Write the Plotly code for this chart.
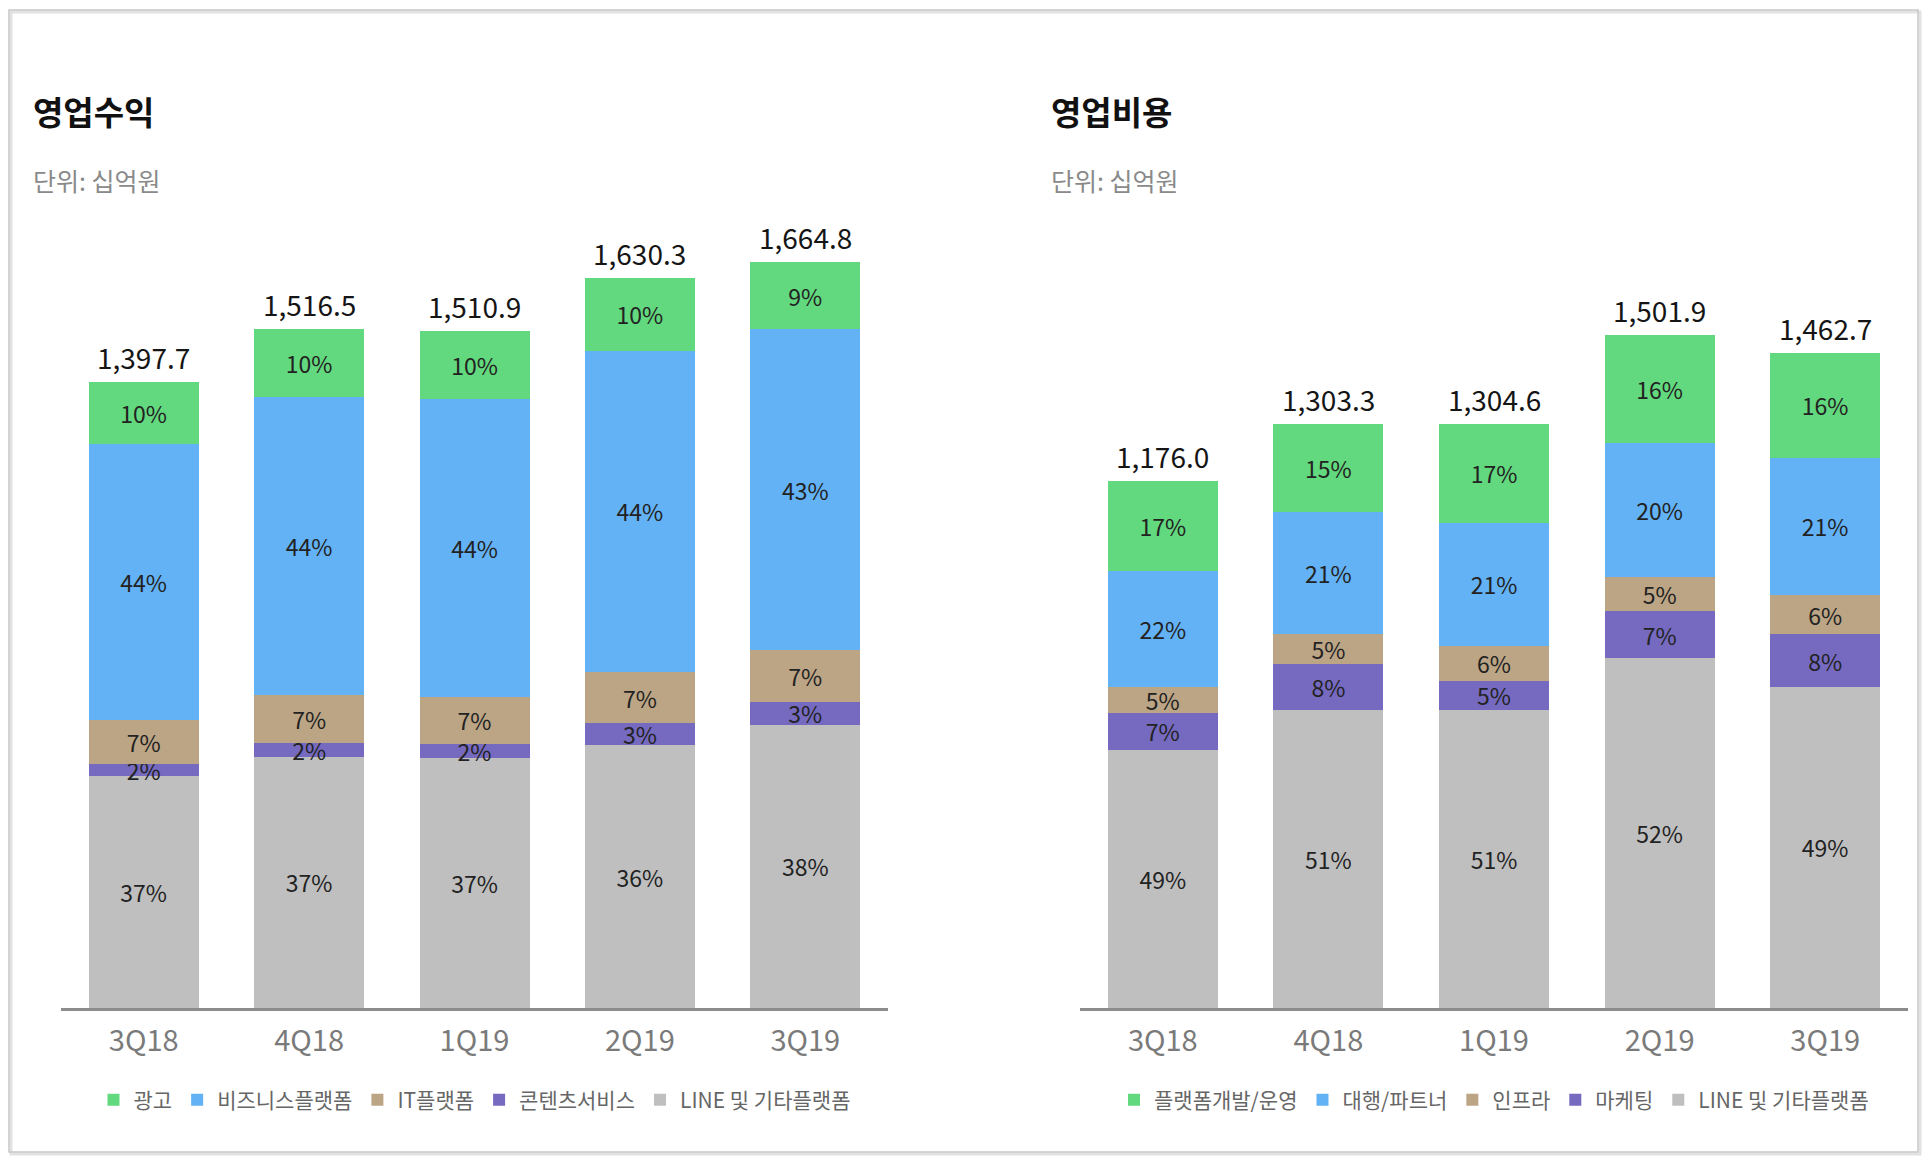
import plotly.graph_objects as go

quarters = ["3Q18", "4Q18", "1Q19", "2Q19", "3Q19"]

# 영업수익 (left)
rev_total = [1397.7, 1516.5, 1510.9, 1630.3, 1664.8]
rev_names = ["LINE 및 기타플랫폼", "콘텐츠서비스", "IT플랫폼", "비즈니스플랫폼", "광고"]  # bottom -> top
rev_line = [37, 37, 37, 36, 38]
rev_content = [2, 2, 2, 3, 3]
rev_it = [7, 7, 7, 7, 7]
rev_biz = [44, 44, 44, 44, 43]
rev_ad = [10, 10, 10, 10, 9]

# 영업비용 (right)
cost_total = [1176.0, 1303.3, 1304.6, 1501.9, 1462.7]
cost_names = ["LINE 및 기타플랫폼", "마케팅", "인프라", "대행/파트너", "플랫폼개발/운영"]  # bottom -> top
cost_line = [49, 51, 51, 52, 49]
cost_mkt = [7, 8, 5, 7, 8]
cost_infra = [5, 5, 6, 5, 6]
cost_partner = [22, 21, 21, 20, 21]
cost_dev = [17, 15, 17, 16, 16]

colors = ["#bfbfbf", "#756ac0", "#bca585", "#62b2f5", "#62d97e"]  # bottom -> top
FONT = "Noto Sans CJK KR"

W, H = 1928, 1162
fig = go.Figure()


def add_stack(names, shares, totals, xa, ya, legend):
    for name, pct, col in zip(names, shares, colors):
        fig.add_trace(go.Bar(
            x=quarters, y=[p * t / 100 for p, t in zip(pct, totals)],
            name=name, marker=dict(color=col, line=dict(width=0)),
            text=[f"{p}%" for p in pct], textposition="inside",
            insidetextanchor="middle", textangle=0, constraintext="none",
            textfont=dict(family=FONT, size=23, color="#222222"),
            xaxis=xa, yaxis=ya, legend=legend, hoverinfo="skip",
        ))
    # totals above each bar
    for q, t in zip(quarters, totals):
        fig.add_annotation(x=q, y=t, xref=xa, yref=ya, text=f"{t:,.1f}",
                           showarrow=False, yanchor="middle", yshift=25,
                           font=dict(family=FONT, size=28, color="#151515"))


add_stack(rev_names, [rev_line, rev_content, rev_it, rev_biz, rev_ad], rev_total, "x", "y", "legend")
add_stack(cost_names, [cost_line, cost_mkt, cost_infra, cost_partner, cost_dev], cost_total, "x2", "y2", "legend2")

y0 = 1 - 1008 / H
y1 = 1 - 180 / H
yrange = [0, 828 / 0.448]

xcommon = dict(showline=True, linecolor="#8c8c8c", linewidth=2.5, ticks="outside",
               ticklen=5, tickcolor="rgba(0,0,0,0)", showgrid=False, zeroline=False,
               tickfont=dict(family=FONT, size=29, color="#7a7a7a"), fixedrange=True)
ycommon = dict(range=yrange, visible=False, showgrid=False, fixedrange=True)

legcommon = dict(orientation="h", xanchor="center", yanchor="middle", y=1 - 1100 / H,
                 traceorder="reversed", itemwidth=30, bgcolor="rgba(0,0,0,0)",
                 font=dict(family=FONT, size=21, color="#666666"))

fig.update_layout(
    width=W, height=H, margin=dict(l=0, r=0, t=0, b=0),
    paper_bgcolor="white", plot_bgcolor="white",
    barmode="stack", bargap=0.335,
    xaxis=dict(domain=[61 / W, 888 / W], anchor="y", **xcommon),
    yaxis=dict(domain=[y0, y1], anchor="x", **ycommon),
    xaxis2=dict(domain=[1080 / W, 1908 / W], anchor="y2", **xcommon),
    yaxis2=dict(domain=[y0, y1], anchor="x2", **ycommon),
    legend=dict(x=(61 + 888) / 2 / W, **legcommon),
    legend2=dict(x=(1080 + 1908) / 2 / W, **legcommon),
    font=dict(family=FONT),
)

# titles
for xpx, title in [(31, "영업수익"), (1049, "영업비용")]:
    fig.add_annotation(x=xpx / W, y=1 - 111 / H, xref="paper", yref="paper",
                       text=f"<b>{title}</b>", showarrow=False, xanchor="left", yanchor="middle",
                       font=dict(family=FONT, size=33, color="#111111"))
    fig.add_annotation(x=xpx / W, y=1 - 180 / H, xref="paper", yref="paper",
                       text="단위: 십억원", showarrow=False, xanchor="left", yanchor="middle",
                       font=dict(family=FONT, size=25, color="#8a8a8a"))

# card frame with a soft shadow
fig.add_shape(type="rect", xref="paper", yref="paper",
              x0=11 / W, x1=1920 / W, y0=1 - 1154 / H, y1=1 - 12 / H,
              line=dict(color="#e2e2e2", width=3), layer="below")
fig.add_shape(type="rect", xref="paper", yref="paper",
              x0=9 / W, x1=1918 / W, y0=1 - 1152 / H, y1=1 - 10 / H,
              line=dict(color="#c8c8c8", width=1.5), layer="below")

fig.write_html("out.html", config={"displayModeBar": False},
               post_script="document.body.style.margin='0';document.body.style.overflow='hidden';")
